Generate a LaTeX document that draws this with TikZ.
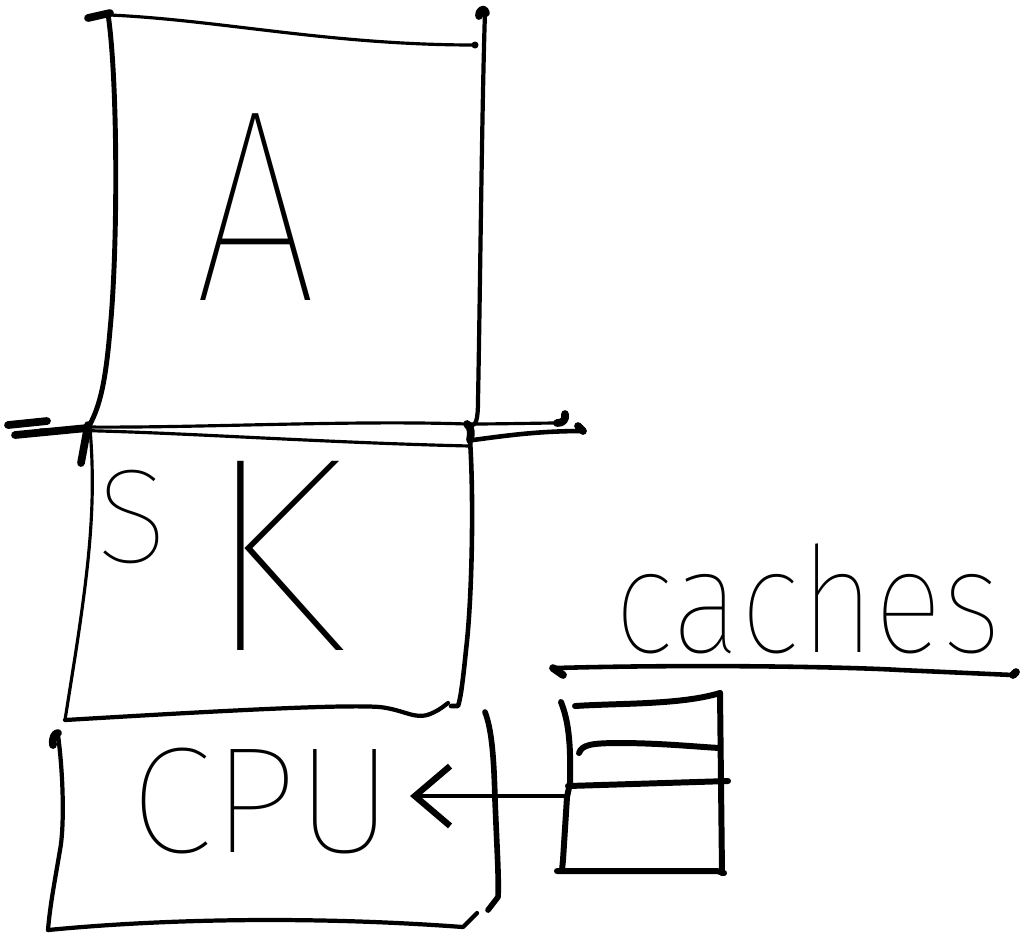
\documentclass[tikz,border=0pt]{standalone}
\usepackage{fontspec}
\setmainfont{Fira Sans}[UprightFont={* Thin}]
\usetikzlibrary{arrows.meta}
\tikzset{
  pen/.style={line width=0.9pt, line cap=round, line join=round},
  heavy/.style={line width=2.2pt, line cap=round, line join=round},
  cachepen/.style={line width=1.7pt, line cap=round, line join=round},
  handtext/.style={inner sep=0pt, anchor=base},
  handarrow/.style={pen, -{Straight Barb[length=10pt,width=17pt,line width=1.8pt]}},
}
\begin{document}
\begin{tikzpicture}[x=0.01cm,y=-0.01cm]
\useasboundingbox (0,0) rectangle (1025,935);

% ---------- top box (A) ----------
\draw[heavy] (88,18) -- (110,13);
\draw[pen] (110,15) .. controls (220,20) and (330,45) .. (475,45);
\fill (475,45) circle (3.5);
\draw[pen, line width=1.4pt] (108,14) .. controls (118,80) and (118,250) .. (110,330) .. controls (105,390) and (98,410) .. (88,428);
\draw[heavy] (479,16) .. controls (479,9) and (485,7) .. (486,13);
\draw[pen, line width=1.2pt] (485,12) .. controls (482,100) and (480,300) .. (478,400) .. controls (478,420) and (476,428) .. (469,424);
\node[handtext] (A) at (256,300) {\fontsize{78}{80}\selectfont\scalebox{0.8}[1]{A}};

% ---------- separator lines ----------
\draw[heavy] (8,425) -- (47,421);
\draw[heavy] (15,435) -- (87,428);
\draw[pen] (87,427) .. controls (200,428) and (350,420) .. (467,424) .. controls (500,424) and (540,423) .. (557,423);
\draw[heavy] (557,423) .. controls (563,423) and (566,420) .. (565,414);
\draw[pen] (40,430) .. controls (150,430) and (300,442) .. (470,446);
\draw[pen, line width=1.3pt] (473,440) .. controls (510,435) and (540,431) .. (583,431);
\draw[heavy] (583,431) -- (578,426);

% ---------- middle box (SK) ----------
\draw[heavy] (88,425) -- (81,463);
\draw[pen] (90,428) .. controls (96,500) and (90,560) .. (75,657) -- (65,720);
\draw[heavy] (467,424) .. controls (472,428) and (471,434) .. (470,440);
\draw[pen, line width=1.3pt] (470,440) .. controls (474,500) and (472,600) .. (466,650) .. controls (462,690) and (460,700) .. (458,706) -- (451,706);
\draw[pen, line width=1.2pt] (65,720) .. controls (200,712) and (340,704) .. (380,707) .. controls (405,710) and (415,720) .. (430,714) .. controls (440,710) and (445,705) .. (448,703);
\node[handtext, anchor=base west] (SK) at (96,650)
  {{\fontsize{38}{40}\selectfont\raisebox{0.87cm}{S}}\hspace{0.35cm}{\fontsize{79}{80}\selectfont K}};

% ---------- bottom box (CPU) ----------
\draw[heavy] (53,745) .. controls (52,737) and (55,733) .. (58,733);
\draw[pen, line width=1.2pt] (58,735) .. controls (64,780) and (64,830) .. (60,850) .. controls (55,880) and (50,905) .. (48,930);
\draw[pen, line width=1.2pt] (48,930) .. controls (150,920) and (300,915) .. (463,927) -- (477,913);
\draw[pen, line width=1.6pt] (485,712) .. controls (492,730) and (494,760) .. (495,800) .. controls (497,850) and (499,880) .. (498,897) -- (488,910);
\node[handtext] (CPU) at (262,852) {\fontsize{43}{44}\selectfont CPU};

% ---------- caches ----------
\node[handtext] (cacheslabel) at (808,652) {\fontsize{42}{44}\selectfont\scalebox{0.87}[1]{caches}};
\draw[heavy] (553,668) -- (563,675);
\draw[pen, line width=1.3pt] (555,668) .. controls (700,664) and (850,667) .. (900,670) -- (1013,675);
\draw[heavy] (1013,675) -- (1016,672);

\draw[cachepen] (561,702) .. controls (568,720) and (571,740) .. (570,783) -- (567,797) -- (563,860) -- (562,870);
\draw[cachepen] (557,871) -- (717,871) -- (724,873);
\draw[cachepen] (720,693) -- (722,873);
\draw[cachepen] (575,706) .. controls (620,703) and (680,705) .. (720,693);
\draw[cachepen] (579,753) .. controls (582,745) and (590,743) .. (620,743) .. controls (660,743) and (700,747) .. (720,748);
\draw[cachepen] (568,786) -- (728,781);

% ---------- connector: caches -> CPU ----------
\coordinate (cacheport) at (567,796);
\coordinate (cpuport) at (410,796);
\draw[handarrow] (cacheport) -- (cpuport);
\end{tikzpicture}
\end{document}
